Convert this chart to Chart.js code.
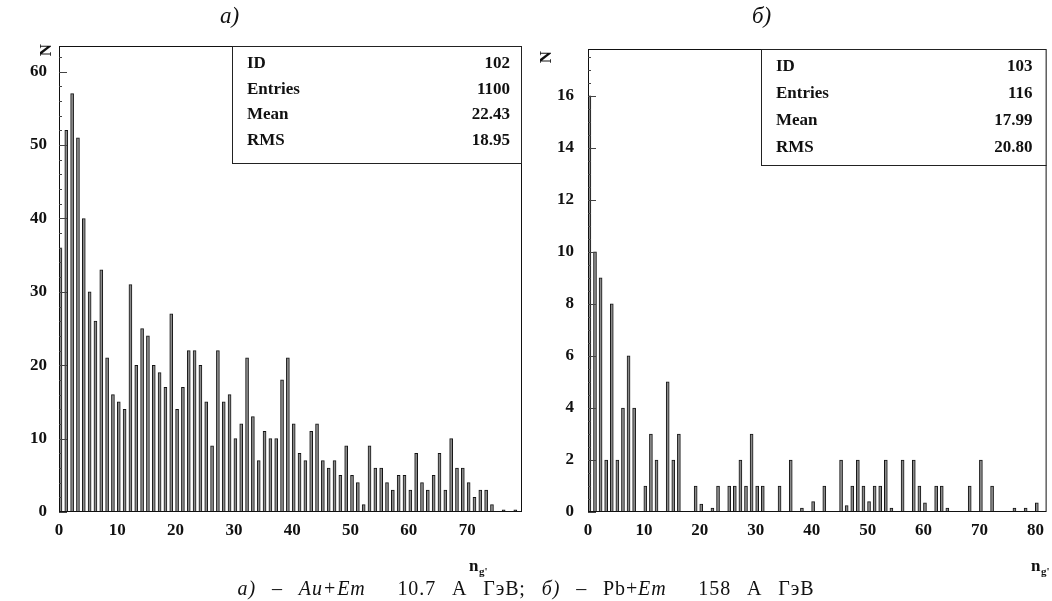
<!DOCTYPE html>
<html>
<head>
<meta charset="utf-8">
<script src="https://cdn.jsdelivr.net/npm/chart.js@4.4.0/dist/chart.umd.min.js"></script>
<style>
  html, body { margin: 0; padding: 0; background: #fff; }
  body { width: 1052px; height: 601px; position: relative; overflow: hidden; font-family: 'Liberation Serif', 'DejaVu Serif', serif; color: #111; }
  canvas { position: absolute; top: 0; }
  #chartA { left: 0; }
  #chartB { left: 526px; }
  .panel { position: absolute; top: 3px; font-size: 23px; font-style: italic; }
  #caption { position: absolute; top: 577px; left: 0; width: 1052px; text-align: center; font-size: 20px; line-height: 22px; letter-spacing: 0.9px; word-spacing: 10px; }
</style>
</head>
<body>
<canvas id="chartA" width="526" height="601"></canvas>
<canvas id="chartB" width="526" height="601"></canvas>
<div class="panel" style="left:220px">а)</div>
<div class="panel" style="left:752px">б)</div>
<div id="caption"><i>а)</i> – <i>Au+Em</i>&nbsp; 10.7 А ГэВ; <i>б)</i> – Pb+<i>Em</i>&nbsp; 158 А ГэВ</div>
<script>
// counts per bin n_g' = 0, 1, 2, ...
const countsA = [
  36, 52, 57, 51, 40, 30, 26, 33, 21, 16,
  15, 14, 31, 20, 25, 24, 20, 19, 17, 27,
  14, 17, 22, 22, 20, 15, 9, 22, 15, 16,
  10, 12, 21, 13, 7, 11, 10, 10, 18, 21,
  12, 8, 7, 11, 12, 7, 6, 7, 5, 9,
  5, 4, 1, 9, 6, 6, 4, 3, 5, 5,
  3, 8, 4, 3, 5, 8, 3, 10, 6, 6,
  4, 2, 3, 3, 1, 0, 0.3, 0, 0.3, 0
];
const countsB = [
  16, 10, 9, 2, 8, 2, 4, 6, 4, 0,
  1, 3, 2, 0, 5, 2, 3, 0, 0, 1,
  0.3, 0, 0.15, 1, 0, 1, 1, 2, 1, 3,
  1, 1, 0, 0, 1, 0, 2, 0, 0.15, 0,
  0.4, 0, 1, 0, 0, 2, 0.25, 1, 2, 1,
  0.4, 1, 1, 2, 0.15, 0, 2, 0, 2, 1,
  0.35, 0, 1, 1, 0.15, 0, 0, 0, 1, 0,
  2, 0, 1, 0, 0, 0, 0.15, 0, 0.15, 0,
  0.35, 0
];

const xTicksA = [0, 10, 20, 30, 40, 50, 60, 70];
const yTicksA = [0, 10, 20, 30, 40, 50, 60];
const xTicksB = [0, 10, 20, 30, 40, 50, 60, 70, 80];
const yTicksB = [0, 2, 4, 6, 8, 10, 12, 14, 16];

const statLabels = ['ID', 'Entries', 'Mean', 'RMS'];
const statsA = ['102', '1100', '22.43', '18.95'];
const statsB = ['103', '116', '17.99', '20.80'];

const BAR_SHIFT = 0.25;
const tickFont = { family: 'Liberation Serif', size: 17, weight: 'bold' };

const framePlugin = {
  id: 'frame',
  afterDatasetsDraw(chart, args, opts) {
    const { ctx, chartArea: a, scales } = chart;
    ctx.save();
    ctx.strokeStyle = '#111';
    ctx.lineWidth = 1;
    ctx.strokeRect(a.left + 0.5, a.top + 0.5, a.right - a.left - 1, a.bottom - a.top - 1);

    // inward y ticks, minor + major
    const y = scales.y;
    const n = Math.floor(y.max / opts.minorStep + 1e-6);
    ctx.strokeStyle = '#444';
    for (let i = 0; i <= n; i++) {
      const v = i * opts.minorStep;
      const r = v / opts.majorStep;
      const major = Math.abs(r - Math.round(r)) < 1e-6;
      const py = Math.round(y.getPixelForValue(v)) + 0.5;
      ctx.beginPath();
      ctx.moveTo(a.left, py);
      ctx.lineTo(a.left + (major ? 8 : 3), py);
      ctx.stroke();
    }

    // stats box
    const b = opts.box;
    ctx.fillStyle = '#fff';
    ctx.fillRect(b.left, a.top, a.right - b.left, b.bottom - a.top);
    ctx.strokeStyle = '#222';
    ctx.strokeRect(b.left + 0.5, a.top + 0.5, a.right - b.left - 1, b.bottom - a.top);
    ctx.fillStyle = '#111';
    ctx.font = 'bold 17px "Liberation Serif"';
    ctx.textBaseline = 'middle';
    statLabels.forEach((lab, i) => {
      const ty = b.firstRow + i * b.rowGap;
      ctx.textAlign = 'left';
      ctx.fillText(lab, b.left + 15, ty);
      ctx.textAlign = 'right';
      ctx.fillText(opts.values[i], a.right - b.valueInset, ty);
    });

    // axis titles
    ctx.font = 'bold 17px "Liberation Serif"';
    ctx.save();
    ctx.translate(opts.yTitle[0], opts.yTitle[1]);
    ctx.rotate(-Math.PI / 2);
    ctx.textAlign = 'center';
    ctx.fillText('N', 0, 0);
    ctx.restore();

    ctx.textAlign = 'left';
    ctx.textBaseline = 'alphabetic';
    ctx.fillText('n', opts.xTitle[0], opts.xTitle[1]);
    ctx.font = 'bold 11px "Liberation Serif"';
    ctx.fillText("g'", opts.xTitle[0] + 10, opts.xTitle[1] + 4);
    ctx.restore();
  }
};

function makeChart(id, counts, o) {
  return new Chart(document.getElementById(id), {
    type: 'bar',
    data: {
      datasets: [{
        data: counts.map((c, i) => ({ x: i + BAR_SHIFT, y: c })),
        backgroundColor: '#8a8a8a',
        borderColor: '#141414',
        borderWidth: 1,
        barThickness: 3
      }]
    },
    options: {
      responsive: false,
      animation: false,
      layout: { padding: { top: o.top, right: o.right, left: 0, bottom: 0 } },
      plugins: {
        legend: { display: false },
        tooltip: { enabled: false },
        frame: o.frame
      },
      scales: {
        x: {
          type: 'linear', min: 0, max: o.xMax, offset: false,
          grid: { display: false, drawTicks: false },
          border: { display: false },
          afterBuildTicks: s => { s.ticks = o.xTicks.map(v => ({ value: v })); },
          afterFit: s => { s.height = 601 - 512; },
          ticks: { font: tickFont, color: '#111', padding: 8, maxRotation: 0, autoSkip: false }
        },
        y: {
          min: 0, max: o.yMax,
          grid: { display: false, drawTicks: false },
          border: { display: false },
          afterBuildTicks: s => { s.ticks = o.yTicks.map(v => ({ value: v })); },
          afterFit: s => { s.width = o.yWidth; },
          ticks: { font: tickFont, color: '#111', padding: o.yPad, autoSkip: false }
        }
      }
    },
    plugins: [framePlugin]
  });
}

makeChart('chartA', countsA, {
  top: 46, right: 4, yWidth: 59, yPad: 12,
  xMax: 79.4, yMax: 63.5, xTicks: xTicksA, yTicks: yTicksA,
  frame: {
    minorStep: 2, majorStep: 10, values: statsA,
    box: { left: 232, bottom: 163, firstRow: 64, rowGap: 25.5, valueInset: 12 },
    yTitle: [47, 50], xTitle: [469, 571]
  }
});

makeChart('chartB', countsB, {
  top: 49, right: 3, yWidth: 62, yPad: 14,
  xMax: 82, yMax: 17.8, xTicks: xTicksB, yTicks: yTicksB,
  frame: {
    minorStep: 0.5, majorStep: 2, values: statsB,
    box: { left: 235, bottom: 165, firstRow: 67, rowGap: 27, valueInset: 14 },
    yTitle: [21, 57], xTitle: [505, 571]
  }
});
</script>
</body>
</html>
